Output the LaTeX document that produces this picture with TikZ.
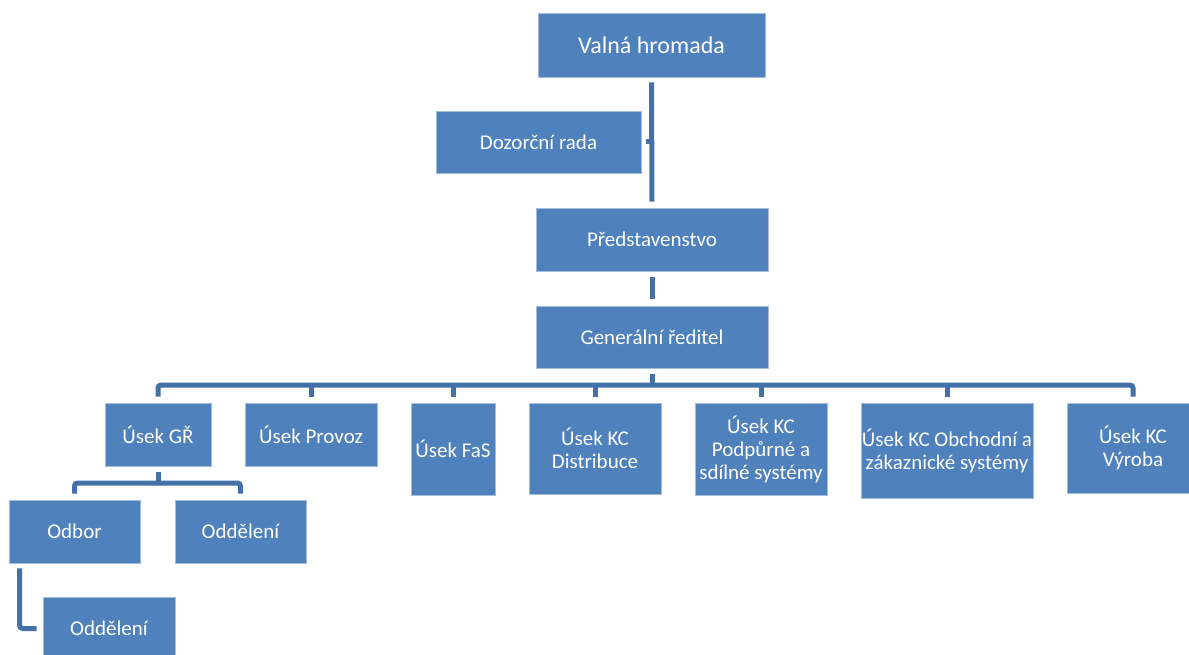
\documentclass[tikz,border=0pt]{standalone}
\usepackage{fontspec}
\setmainfont{Carlito}
\usetikzlibrary{calc}
\definecolor{boxblue}{HTML}{4F81BD}
\definecolor{boxedge}{HTML}{A3BCDC}
\definecolor{linkblue}{HTML}{4470A8}
\tikzset{
  orgbox/.style={rectangle, fill=boxblue, draw=boxedge, line width=0.7pt, text=white,
    inner sep=0pt, align=center, font=\fontsize{21}{23}\selectfont},
  conn/.style={draw=linkblue, line width=5pt, rounded corners=3pt},
}
\begin{document}
\begin{tikzpicture}[x=1pt,y=-1pt]
\useasboundingbox (0,0) rectangle (1189,655);
\clip (0,0) rectangle (1189,655);
% nodes
\node[orgbox, minimum width=227pt, minimum height=64pt, font=\fontsize{24}{26}\selectfont] (vh) at (651.5,45) {Valná hromada};
\node[orgbox, minimum width=205pt, minimum height=62pt] (dr) at (538.5,142) {Dozorční rada};
\node[orgbox, minimum width=232pt, minimum height=63pt] (pr) at (652,239.5) {Představenstvo};
\node[orgbox, minimum width=232pt, minimum height=62pt] (gr) at (652,337) {Generální ředitel};
\node[orgbox, minimum width=106pt, minimum height=63pt] (ugr) at (158,434.5) {Úsek GŘ};
\node[orgbox, minimum width=132pt, minimum height=63pt] (upr) at (311,434.5) {Úsek Provoz};
\node[orgbox, minimum width=84pt, minimum height=92pt] (fas) at (453,449) {Úsek FaS};
\node[orgbox, minimum width=132pt, minimum height=91pt] (dis) at (595,448.5) {Úsek KC\\Distribuce};
\node[orgbox, minimum width=132pt, minimum height=92pt] (pod) at (761,449) {Úsek KC\\Podpůrné a\\sdílné systémy};
\node[orgbox, minimum width=172pt, minimum height=95pt] (obc) at (947,450.5) {Úsek KC Obchodní a\\zákaznické systémy};
\node[orgbox, minimum width=132pt, minimum height=90pt] (vyr) at (1133,448) {Úsek KC\\Výroba};
\node[orgbox, minimum width=131pt, minimum height=63pt] (odb) at (74.5,531.5) {Odbor};
\node[orgbox, minimum width=131pt, minimum height=63pt] (odd1) at (240.5,531.5) {Oddělení};
\node[orgbox, minimum width=132pt, minimum height=63pt] (odd2) at (109,628.5) {Oddělení};
% bus coordinates
\coordinate (bus) at (652,385);
\coordinate (sbus) at (158,483);
% connectors
\draw[conn, shorten <=5pt, shorten >=6pt] (vh.south) -- (pr.north);
\draw[conn, shorten <=5pt] (dr.east) -- (dr.east -| vh.south);
\draw[conn, shorten <=6pt, shorten >=7pt] (pr.south) -- (gr.north);
\draw[conn, shorten <=6pt] (gr.south) -- (bus);
\draw[conn, shorten <=6pt, shorten >=6pt] (ugr.north) -- (ugr.north |- bus) -- (vyr.north |- bus) -- (vyr.north);
\foreach \n in {upr,fas,dis,pod,obc} {
  \draw[conn, shorten <=6pt] (\n.north) -- (\n.north |- bus);
}
\draw[conn, shorten <=6pt] (ugr.south) -- (sbus);
\draw[conn, shorten <=6pt, shorten >=6pt] (odb.north) -- (odb.north |- sbus) -- (odd1.north |- sbus) -- (odd1.north);
\draw[conn, shorten <=6pt, shorten >=5pt] (odd2.west) -| ($(odb.south west)+(11,0)$);
\end{tikzpicture}
\end{document}
